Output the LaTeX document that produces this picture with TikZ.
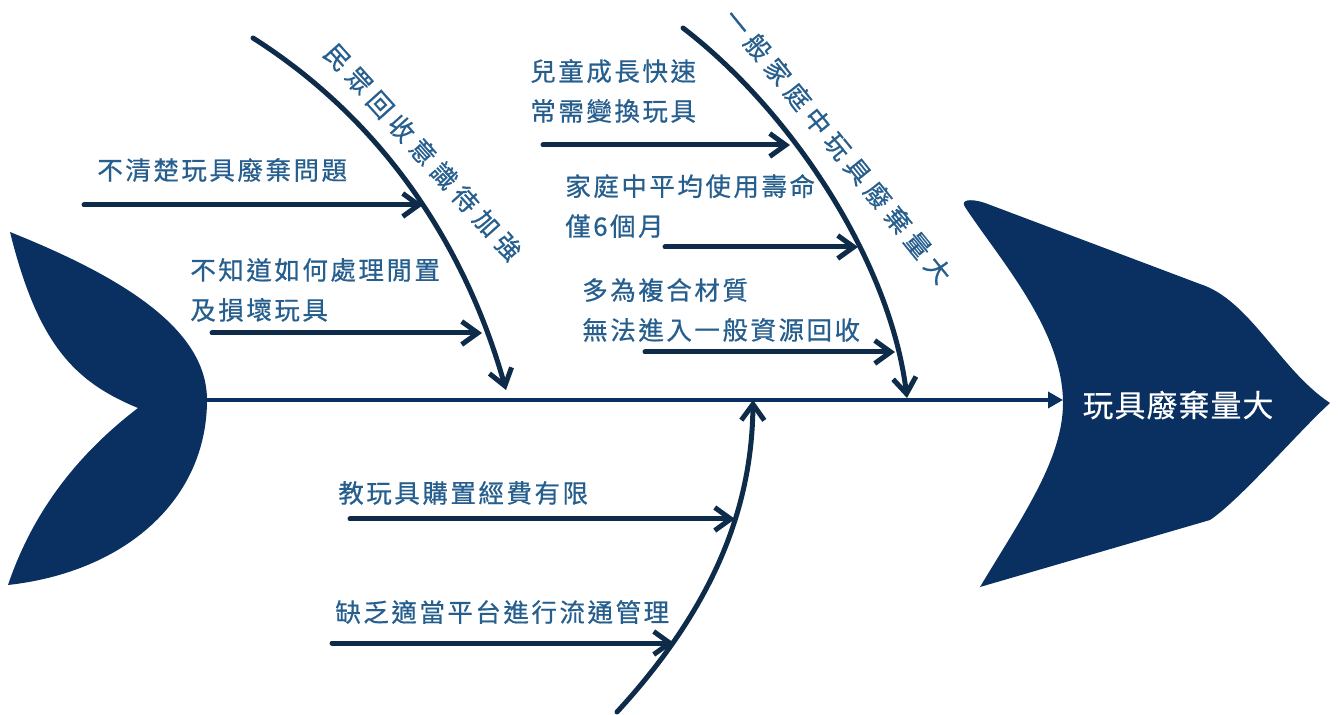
\documentclass[tikz,border=0pt]{standalone}
\usepackage{fontspec}
\usetikzlibrary{arrows.meta}
\newfontfamily\cjk[LetterSpace=10,FakeBold=0.6]{Noto Sans CJK TC}
\newfontfamily\cjkwide[LetterSpace=25,FakeBold=0.6]{Noto Sans CJK TC}
\newfontfamily\cjkhead[LetterSpace=4,FakeBold=0.4]{Noto Sans CJK TC}
\definecolor{fishblue}{RGB}{9,48,96}
\definecolor{bonecol}{RGB}{14,44,74}
\definecolor{txtblue}{RGB}{38,94,142}

\begin{document}
\begin{tikzpicture}[x=0.02cm,y=-0.02cm,
    bone/.style={line width=1mm,bonecol,line cap=round,-{Straight Barb[length=3.2mm,width=4.6mm]}},
    cause/.style={anchor=west,inner sep=0pt,txtblue,align=left,font=\cjk\fontsize{14.5}{22.7}\selectfont},
    branchlbl/.style={inner sep=0pt,txtblue,font=\cjkwide\fontsize{14.5}{17}\selectfont}]
    \useasboundingbox (0,0) rectangle (1338,715);

    % tail and head
    \fill[fishblue] (10,232) .. controls (125,278) and (207,330) .. (207,400)
        .. controls (207,500) and (125,572) .. (8,585)
        .. controls (30,520) and (70,460) .. (138,408)
        .. controls (75,382) and (38,345) .. cycle;
    \fill[fishblue] (965,207) .. controls (960,200) and (970,198) .. (985,203)
        -- (1200,284) .. controls (1250,300) and (1280,370) .. (1330,403)
        .. controls (1300,430) and (1240,500) .. (1210,520) -- (980,587)
        .. controls (1020,520) and (1063,460) .. (1063,403)
        .. controls (1063,330) and (1000,260) .. cycle;
    \node[white,font=\cjkhead\fontsize{17.5}{20}\selectfont] (effect) at (1178,405) {玩具廢棄量大};

    % spine
    \coordinate (tail) at (207,400);
    \coordinate (head) at (1063,400);
    \draw[line width=0.7mm,fishblue,-{Triangle[length=3mm,width=3.2mm]}] (tail) -- (head);

    % main bones
    \coordinate (b1s) at (253,38);  \coordinate (b1e) at (506,390);
    \coordinate (b2s) at (683,28);  \coordinate (b2e) at (907,398);
    \coordinate (b3s) at (617,712); \coordinate (b3e) at (753,400);
    \draw[bone] (b1s) .. controls (390,125) and (468,255) .. (b1e);
    \draw[bone] (b2s) .. controls (790,110) and (890,260) .. (b2e);
    \draw[bone] (b3s) .. controls (720,600) and (752,500) .. (b3e);
    \node[branchlbl,rotate=-48] (recycle) at (423,152) {民眾回收意識待加強};
    \node[branchlbl,rotate=-51] (home) at (838,146) {一般家庭中玩具廢棄量大};

    % causes
    \node[cause] (unclear) at (97,170) {不清楚玩具廢棄問題};
    \node[cause] (unknown) at (190,290) {不知道如何處理閒置\\及損壞玩具};
    \node[cause] (growth) at (530,91) {兒童成長快速\\常需變換玩具};
    \node[cause] (life) at (565,206) {家庭中平均使用壽命\\僅6個月};
    \node[cause] (material) at (582,310) {多為複合材質\\無法進入一般資源回收};
    \node[cause] (budget) at (338,493) {教玩具購置經費有限};
    \node[cause] (platform) at (335,612) {缺乏適當平台進行流通管理};

    \coordinate (c1s) at (84,205);  \coordinate (c1e) at (423,205);
    \coordinate (c2s) at (212,333); \coordinate (c2e) at (482,333);
    \coordinate (c3s) at (543,145); \coordinate (c3e) at (790,145);
    \coordinate (c4s) at (665,247); \coordinate (c4e) at (858,247);
    \coordinate (c5s) at (645,352); \coordinate (c5e) at (895,352);
    \coordinate (c6s) at (350,519); \coordinate (c6e) at (735,519);
    \coordinate (c7s) at (332,643); \coordinate (c7e) at (674,643);
    \foreach \i in {1,...,7}
        \draw[bone] (c\i s) -- (c\i e);
\end{tikzpicture}
\end{document}
